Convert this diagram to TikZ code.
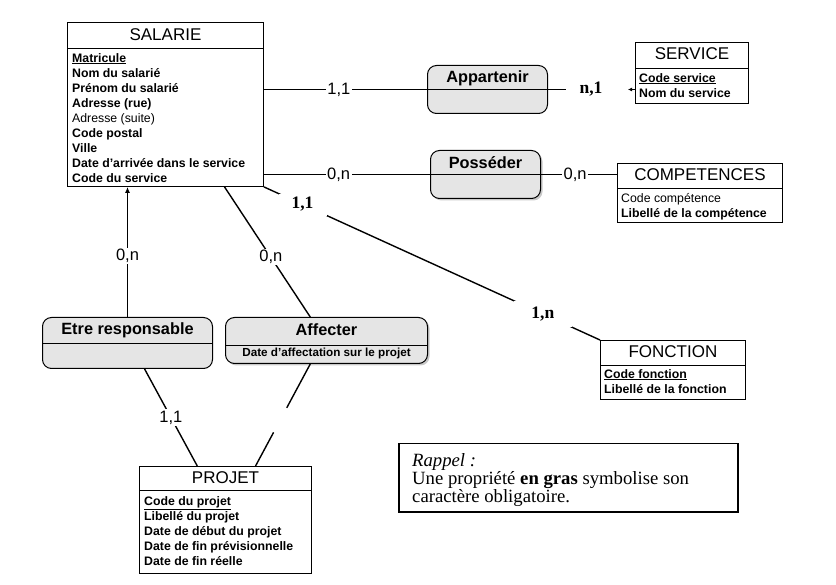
\documentclass[tikz,border=0pt]{standalone}
\usepackage{fontspec}
\setmainfont{Liberation Serif}
\setsansfont{Liberation Sans}
\usetikzlibrary{calc,arrows.meta,shadows}
\begin{document}
\begin{tikzpicture}[x=1pt,y=-1pt,
 ent/.style={draw, line width=0.9pt, anchor=north west, inner sep=0pt},
 ettl/.style={font=\sffamily\fontsize{17}{18}\selectfont, inner sep=0pt},
 attr/.style={font=\sffamily\bfseries\fontsize{12.3}{15}\selectfont, align=left, anchor=north west, inner sep=0pt},
 rel/.style={draw, line width=1pt, rounded corners=9pt, fill=gray!20, anchor=north west, inner sep=0pt},
 relsh/.style={rel, drop shadow={shadow xshift=2pt,shadow yshift=-2pt,fill=gray!85}},
 rttl/.style={font=\sffamily\bfseries\fontsize{16.3}{18}\selectfont, inner sep=0pt},
 card/.style={font=\sffamily\fontsize{16.5}{17}\selectfont, fill=white, inner sep=1.5pt},
 cards/.style={font=\rmfamily\bfseries\fontsize{17.5}{18}\selectfont, fill=white, inner sep=1.5pt},
 link/.style={line width=1.4pt},
 divl/.style={line width=0.8pt}]
\useasboundingbox (0,0) rectangle (836,585);

% ---------- entities ----------
% SALARIE
\node[ent, minimum width=196pt, minimum height=164pt] (sal) at (67,22) {};
\node[ettl] (salt) at ($(sal.north)+(0,13)$) {SALARIE};
\draw[divl] ($(sal.north west)+(0,26)$) -- ($(sal.north east)+(0,26)$);
\node[attr] (sala) at ($(sal.north west)+(5,31)$) {\underline{Matricule}\\Nom du salarié\\Prénom du salarié\\Adresse (rue)\\{\mdseries Adresse (suite)}\\Code postal\\Ville\\Date d'arrivée dans le service\\Code du service};

% SERVICE
\node[ent, minimum width=113pt, minimum height=61pt] (ser) at (635,42) {};
\node[ettl] (sert) at ($(ser.north)+(0,12)$) {SERVICE};
\draw[divl] ($(ser.north west)+(0,26)$) -- ($(ser.north east)+(0,26)$);
\node[attr] (sera) at ($(ser.north west)+(4,31)$) {\underline{Code service}\\Nom du service};

% COMPETENCES
\node[ent, minimum width=165pt, minimum height=59pt] (com) at (617,163) {};
\node[ettl] (comt) at ($(com.north)+(0,12)$) {COMPETENCES};
\draw[divl] ($(com.north west)+(0,25)$) -- ($(com.north east)+(0,25)$);
\node[attr] (coma) at ($(com.north west)+(4,30)$) {{\mdseries Code compétence}\\Libellé de la compétence};

% FONCTION
\node[ent, minimum width=145pt, minimum height=59pt] (fon) at (600,340) {};
\node[ettl] (font) at ($(fon.north)+(0,12)$) {FONCTION};
\draw[divl] ($(fon.north west)+(0,25)$) -- ($(fon.north east)+(0,25)$);
\node[attr] (fona) at ($(fon.north west)+(4,29)$) {\underline{Code fonction}\\Libellé de la fonction};

% PROJET
\node[ent, minimum width=172pt, minimum height=107pt] (pro) at (139,466) {};
\node[ettl] (prot) at ($(pro.north)+(0,12)$) {PROJET};
\draw[divl] ($(pro.north west)+(0,24)$) -- ($(pro.north east)+(0,24)$);
\node[attr] (proa) at ($(pro.north west)+(5,30)$) {\underline{Code du projet}\\Libellé du projet\\Date de début du projet\\Date de fin prévisionnelle\\Date de fin réelle};

% ---------- relations ----------
\node[rel, minimum width=120pt, minimum height=48pt] (app) at (427,65) {};
\node[rttl] (appt) at ($(app.north)+(0,13)$) {Appartenir};

\node[relsh, minimum width=110pt, minimum height=48pt] (pos) at (430,150) {};
\node[rttl] (post) at ($(pos.north)+(0,13)$) {Posséder};

\node[rel, minimum width=170pt, minimum height=51pt] (etr) at (42,317) {};
\node[rttl] (etrt) at ($(etr.north)+(0,13)$) {Etre responsable};
\draw[divl] ($(etr.north west)+(0,26)$) -- ($(etr.north east)+(0,26)$);

\node[relsh, minimum width=202pt, minimum height=46pt] (aff) at (225,317) {};
\node[rttl] (afft) at ($(aff.north)+(0,13)$) {Affecter};
\draw[divl] ($(aff.north west)+(0,28)$) -- ($(aff.north east)+(0,28)$);
\node[attr, anchor=north] (affa) at ($(aff.north)+(0,31)$) {\fontsize{11.7}{13}\selectfont Date d'affectation sur le projet};

% ---------- Rappel ----------
\node[draw, line width=1.5pt, anchor=north west, minimum width=339pt, minimum height=68pt, inner sep=0pt] (rap) at (398,443) {};
\node[anchor=north west, align=left, inner sep=0pt, font=\rmfamily\fontsize{18.7}{18.3}\selectfont] (rapt) at ($(rap.north west)+(14,10)$) {\textit{Rappel :}\\Une propriété \textbf{en gras} symbolise son\\caractère obligatoire.};

% ---------- connectors ----------
% SALARIE -- Appartenir -- SERVICE
\draw[link] (sal.east |- app.west) -- node[card, pos=0.46] (c1) {1,1} (app.west);
\draw[link] (app.west) -- (app.east);
\coordinate (s1) at ($(app.east)+(18,0)$);
\draw[link] (app.east) -- (s1);
\node[cards] (c2) at ($(app.east)+(43,0)$) {n,1};
\coordinate (s2) at ($(ser.west |- app.east)+(-7,0)$);
\draw[line width=0.9pt, -{Latex[length=4pt,width=4pt]}] (ser.west |- app.east) -- (s2);

% SALARIE -- Posséder -- COMPETENCES
\draw[link] (sal.east |- pos.west) -- node[card, pos=0.45] (c3) {0,n} (pos.west);
\draw[link] (pos.west) -- (pos.east);
\draw[link] (pos.east) -- node[card, pos=0.45] (c4) {0,n} (com.west |- pos.east);

% SALARIE -- FONCTION
\draw[link] (sal.south east) -- node[cards, pos=0.115, minimum width=48pt, minimum height=22pt] (c5) {1,1}
  node[cards, pos=0.83, minimum width=58pt, minimum height=26pt] (c6) {1,n} (fon.north west);

% Etre responsable -- SALARIE
\draw[link, -{Latex[length=6pt,width=5pt]}] (etr.north) -- node[card, pos=0.47] (c7) {0,n} (etr.north |- sal.south);

% Affecter -- SALARIE
\coordinate (sa) at ($(sal.south west)!0.8!(sal.south east)$);
\coordinate (at) at ($(aff.north west)!0.42!(aff.north east)$);
\draw[link] (at) -- node[card, pos=0.46] (c8) {0,n} (sa);

% Etre responsable -- PROJET
\coordinate (eb) at ($(etr.south west)!0.6!(etr.south east)$);
\coordinate (pa) at ($(pro.north west)!0.337!(pro.north east)$);
\draw[link] (eb) -- node[card, pos=0.5] (c9) {1,1} (pa);

% Affecter -- PROJET (interrupted line)
\coordinate (ab) at ($(aff.south west)!0.42!(aff.south east)$);
\coordinate (pb) at ($(pro.north west)!0.674!(pro.north east)$);
\draw[link] (ab) -- ($(ab)!0.43!(pb)$);
\draw[link] ($(ab)!0.67!(pb)$) -- (pb);
\end{tikzpicture}
\end{document}
